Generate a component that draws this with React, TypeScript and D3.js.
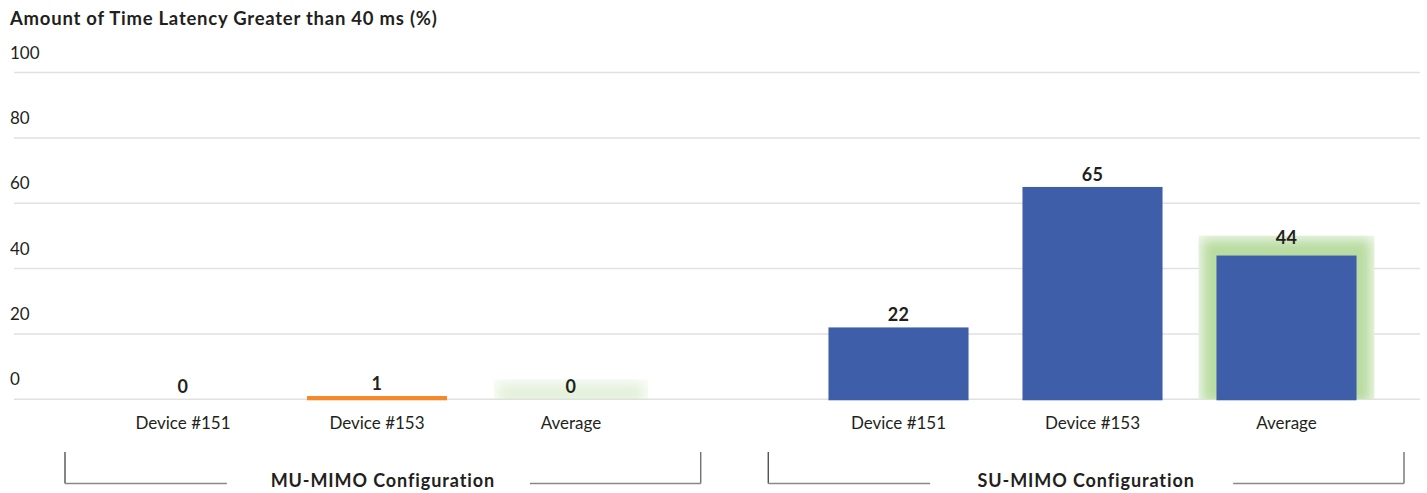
import React from "react";
import * as d3 from "d3";

// Share of time that latency exceeded 40 ms, per device and configuration
const categories = ["Device #151", "Device #153", "Average"];
const configurations = ["MU-MIMO Configuration", "SU-MIMO Configuration"];
const muMimoValues = [0, 1, 0];
const suMimoValues = [22, 65, 44];
const yTicks = [0, 20, 40, 60, 80, 100];
const chartTitle = "Amount of Time Latency Greater than 40 ms (%)";

const seriesByConfig: Record<string, number[]> = {
  [configurations[0]]: muMimoValues,
  [configurations[1]]: suMimoValues,
};
const colorByConfig: Record<string, string> = {
  [configurations[0]]: "#f4882a",
  [configurations[1]]: "#3e5ea9",
};

const W = 1427;
const H = 493;
const FONT = "Lato, 'Open Sans', sans-serif";
const TEXT = "#231f20";

export default function App() {
  const y = d3.scaleLinear().domain([0, 100]).range([399.3, 72.6]);

  // outer bands: one per configuration
  const xGroup = d3
    .scaleBand<string>()
    .domain(configurations)
    .range([86, 1383.5])
    .paddingInner(0.1866)
    .paddingOuter(0);
  // inner bands: one per device/average
  const xCat = d3
    .scaleBand<string>()
    .domain(categories)
    .range([0, xGroup.bandwidth()])
    .paddingInner(0.278)
    .paddingOuter(0.139);
  // bracket spans below each configuration
  const xBracket = d3
    .scaleBand<string>()
    .domain(configurations)
    .range([65, 1404])
    .paddingInner(0.096)
    .paddingOuter(0);

  const glowPadTop = 20;
  const baseY = y(0);

  // highlight box around an "Average" bar: wider and stronger for taller bars
  const glowBox = (cfg: string) => {
    const v = seriesByConfig[cfg][2];
    const x0 = (xGroup(cfg) ?? 0) + (xCat("Average") ?? 0);
    const barH = baseY - y(v);
    const padX = Math.min(18, 7 + barH * 0.1);
    return {
      x: x0 - padX,
      y: y(v) - glowPadTop,
      width: xCat.bandwidth() + padX * 2,
      height: barH + glowPadTop,
      strength: Math.min(1, (barH + glowPadTop) / 60),
    };
  };

  return (
    <svg
      width={W}
      height={H}
      style={{ position: "absolute", left: 0, top: 0, background: "#fff" }}
      fontFamily={FONT}
    >
      <defs>
        <filter id="glowBlur" x="-20%" y="-50%" width="140%" height="200%">
          <feGaussianBlur stdDeviation="6" />
        </filter>
        {configurations.map((cfg, gi) => {
          const b = glowBox(cfg);
          return (
            <clipPath id={`glowClip${gi}`} key={cfg}>
              <rect x={b.x} y={b.y} width={b.width} height={b.height} />
            </clipPath>
          );
        })}
      </defs>

      <text
        x={10}
        y={25}
        fontSize={18.5}
        fontWeight={700}
        letterSpacing={0.75}
        fill={TEXT}
      >
        {chartTitle}
      </text>

      {/* gridlines and value-axis labels */}
      {yTicks.map((t) => (
        <g key={t}>
          <line
            x1={14}
            x2={1420}
            y1={y(t)}
            y2={y(t)}
            stroke="#e1e1e1"
            strokeWidth={1.5}
          />
          <text x={10} y={y(t) - 14} fontSize={17} fill={TEXT}>
            {t}
          </text>
        </g>
      ))}

      {configurations.map((cfg, gi) => {
        const gx = xGroup(cfg) ?? 0;
        const values = seriesByConfig[cfg];
        const bx = xBracket(cfg) ?? 0;
        const bw = xBracket.bandwidth();
        const bc = bx + bw / 2;
        const bracketY = 483.5;
        const gb = glowBox(cfg);
        return (
          <g key={cfg}>
            {categories.map((cat, ci) => {
              const v = values[ci];
              const x0 = gx + (xCat(cat) ?? 0);
              const w = xCat.bandwidth();
              const isAvg = cat === "Average";
              const labelOffset = isAvg && v > 0 ? 12 : 6;
              return (
                <g key={cat}>
                  {isAvg && (
                    <g clipPath={`url(#glowClip${gi})`}>
                      <rect
                        x={gb.x}
                        y={gb.y}
                        width={gb.width}
                        height={gb.height}
                        fill="#f1f8ec"
                        opacity={gb.strength}
                      />
                      <rect
                        x={gb.x + 4}
                        y={gb.y + 4}
                        width={gb.width - 8}
                        height={gb.height}
                        fill="#b2d898"
                        opacity={gb.strength * 0.9}
                        filter="url(#glowBlur)"
                      />
                    </g>
                  )}
                  {v > 0 && (
                    <rect
                      x={x0}
                      y={y(v)}
                      width={w}
                      height={baseY - y(v) + 1}
                      fill={colorByConfig[cfg]}
                    />
                  )}
                  <text
                    x={x0 + w / 2}
                    y={y(v) - labelOffset}
                    textAnchor="middle"
                    fontSize={18}
                    fontWeight={700}
                    letterSpacing={0.4}
                    fill={TEXT}
                  >
                    {v}
                  </text>
                  <text
                    x={x0 + w / 2}
                    y={429}
                    textAnchor="middle"
                    fontSize={17}
                    fill={TEXT}
                  >
                    {cat}
                  </text>
                </g>
              );
            })}

            {/* configuration bracket */}
            <line x1={bx} x2={bx} y1={452} y2={bracketY} stroke="#444" strokeWidth={1.3} />
            <line x1={bx + bw} x2={bx + bw} y1={452} y2={bracketY} stroke="#666" strokeWidth={1.3} />
            <line x1={bx} x2={bc - 156} y1={bracketY} y2={bracketY} stroke="#888" strokeWidth={1.5} />
            <line x1={bc + 147} x2={bx + bw} y1={bracketY} y2={bracketY} stroke="#888" strokeWidth={1.5} />
            <text
              x={bc}
              y={487}
              textAnchor="middle"
              fontSize={18}
              fontWeight={700}
              letterSpacing={0.9}
              fill={TEXT}
            >
              {cfg}
            </text>
          </g>
        );
      })}
    </svg>
  );
}
